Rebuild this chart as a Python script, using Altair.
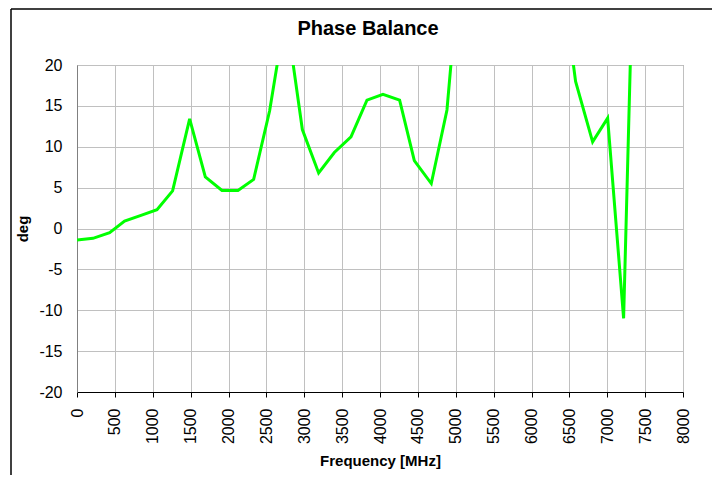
import altair as alt
import pandas as pd

# Frequency (MHz) and phase balance (deg)
freq = [0, 211, 431, 628, 845, 1056, 1262, 1487, 1694, 1914, 2125, 2332, 2543,
        2756, 2975, 3190, 3397, 3617, 3828, 4039, 4259, 4453, 4677, 4884, 5096,
        6370, 6582, 6807, 7005, 7216, 7420]
deg = [-1.4, -1.2, -0.5, 0.9, 1.6, 2.3, 4.6, 13.4, 6.3, 4.65, 4.65, 6.0, 14.4,
       26.5, 12.1, 6.8, 9.3, 11.2, 15.7, 16.4, 15.7, 8.3, 5.5, 14.5, 37.0,
       33.0, 18.0, 10.6, 13.5, -11.0, 61.0]

x_ticks = list(range(0, 8001, 500))
y_ticks = list(range(-20, 21, 5))

df = pd.DataFrame({"freq": freq, "deg": deg})

FONT = "Liberation Sans"

line = alt.Chart(df).mark_line(color="#00ff00", strokeWidth=3, clip=True).encode(
    x=alt.X(
        "freq:Q",
        scale=alt.Scale(domain=[0, 8000], nice=False, zero=False),
        axis=alt.Axis(
            values=x_ticks, labelAngle=-90, title="Frequency [MHz]",
            labelExpr="'' + datum.value",
            tickSize=5, tickColor="black", domainColor="black", labelPadding=11,
            titlePadding=10, gridColor="#c0c0c0",
        ),
    ),
    y=alt.Y(
        "deg:Q",
        scale=alt.Scale(domain=[-20, 20], nice=False, zero=False),
        axis=alt.Axis(
            values=y_ticks, title="deg", ticks=False, labelPadding=15,
            labelExpr="'' + datum.value",
            domainColor="#808080", titlePadding=8, gridColor="#c0c0c0",
        ),
    ),
)

one = pd.DataFrame({"a": [0]})
frame_left = alt.Chart(one).mark_rule(color="black", strokeWidth=1.5).encode(
    x=alt.value(-66), y=alt.value(-56), y2=alt.value(410)
)
frame_top = alt.Chart(one).mark_rule(color="black", strokeWidth=1.5).encode(
    x=alt.value(-66), x2=alt.value(635), y=alt.value(-56)
)

chart = (
    alt.layer(line, frame_left, frame_top)
    .properties(
        width=606,
        height=327,
        autosize=alt.AutoSizeParams(type="none"),
        padding={"left": 69, "top": 57, "right": 29, "bottom": 83},
        title=alt.TitleParams(
            "Phase Balance", fontSize=20, font=FONT, fontWeight="bold",
            anchor="middle", frame="group", dx=-12, offset=0, dy=47,
            baseline="alphabetic", color="black",
        ),
        background="white",
    )
    .configure_view(stroke="#808080", strokeWidth=1)
    .configure_axis(
        labelFont=FONT, labelFontSize=16, labelColor="black",
        titleFont=FONT, titleFontSize=15, titleFontWeight="bold", titleColor="black",
        grid=True, gridWidth=1,
    )
)

chart.save("out.html", embed_options={"renderer": "svg", "actions": False})
